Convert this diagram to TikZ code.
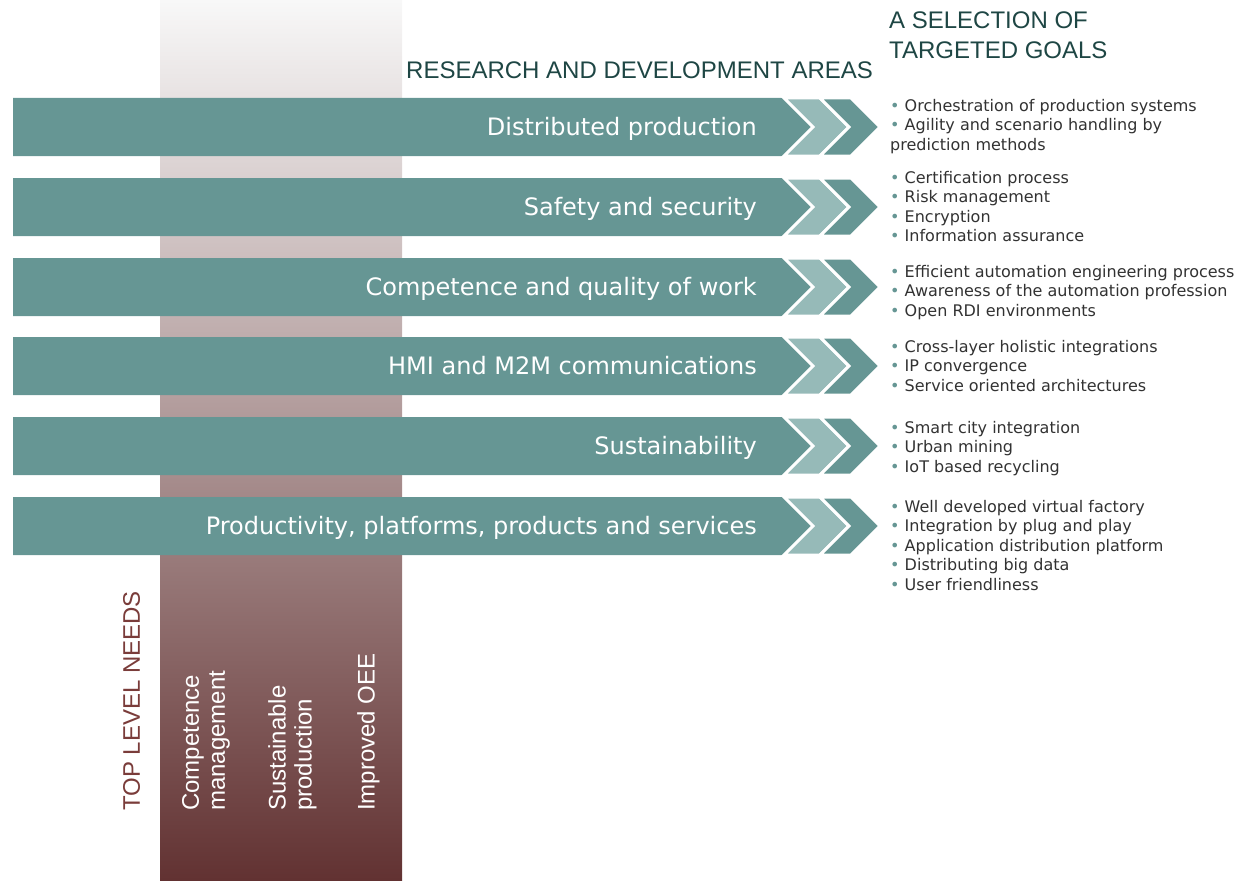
\documentclass[tikz,border=0pt]{standalone}
\usepackage{fontspec}
\setmainfont{Liberation Sans}
\newfontfamily\dejavu{DejaVu Sans}
\usepackage{tikz}
\definecolor{barteal}{RGB}{102,150,148}
\definecolor{chevpale}{RGB}{150,186,184}
\definecolor{headgreen}{RGB}{30,70,68}
\definecolor{needred}{RGB}{122,60,58}
\definecolor{goaltext}{RGB}{50,50,50}
\definecolor{bandtop}{RGB}{248,248,248}
\definecolor{bandmid}{RGB}{194,182,182}
\definecolor{bandbot}{RGB}{98,50,50}
\newcommand\gi{{\color{barteal}•}\ }
\tikzset{
  bar/.style={fill=barteal},
  chevlight/.style={fill=chevpale, draw=white, line width=3pt, line join=miter},
  chevdark/.style={fill=barteal, draw=white, line width=3pt, line join=miter},
  barlabel/.style={anchor=base east, inner sep=0, text=white, font=\dejavu\fontsize{24}{28}\selectfont},
  goals/.style={anchor=north west, inner sep=0, align=left, text=goaltext, font=\dejavu\fontsize{16}{19.5}\selectfont},
  heading/.style={inner sep=0, text=headgreen, align=left, font=\fontsize{24}{30}\selectfont},
  need/.style={rotate=90, anchor=north west, inner sep=0, align=left, text=white, font=\fontsize{24}{26}\selectfont}
}

\begin{document}
\begin{tikzpicture}[x=1pt, y=-1pt]
\useasboundingbox (0,0) rectangle (1238,880);
% band of the top level needs
\shade[top color=bandtop, middle color=bandmid, bottom color=bandbot] (160,0) rectangle (402,880);

% headings
\node[heading, anchor=west] (rdhead) at (406,70) {RESEARCH AND DEVELOPMENT AREAS};
\node[heading, anchor=north west] (goalhead) at (889,11.4) {A SELECTION OF\\TARGETED GOALS};

% research areas
\foreach \t/\n/\lbl in {98/1/{Distributed production}, 178/2/{Safety and security},
    258/3/{Competence and quality of work}, 337/4/{HMI and M2M communications},
    417/5/{Sustainability}, 497/6/{Productivity, platforms, products and services}} {
  \fill[bar] (13,\t) -- (784,\t) -- (813,\t+29) -- (784,\t+58) -- (13,\t+58) -- cycle;
  \filldraw[chevlight] (784,\t) -- (820,\t) -- (849,\t+29) -- (820,\t+58) -- (784,\t+58) -- (813,\t+29) -- cycle;
  \filldraw[chevdark] (820,\t) -- (851,\t) -- (880,\t+29) -- (851,\t+58) -- (820,\t+58) -- (849,\t+29) -- cycle;
  \node[barlabel] (area\n) at (757,\t+37.5) {\lbl};
}

% targeted goals
\node[goals] (goal1) at (890,99) {\gi Orchestration of production systems\\\gi Agility and scenario handling by\\prediction methods};
\node[goals] (goal2) at (890,171) {\gi Certification process\\\gi Risk management\\\gi Encryption\\\gi Information assurance};
\node[goals] (goal3) at (890,265) {\gi Efficient automation engineering process\\\gi Awareness of the automation profession\\\gi Open RDI environments};
\node[goals] (goal4) at (890,340) {\gi Cross-layer holistic integrations\\\gi IP convergence\\\gi Service oriented architectures};
\node[goals] (goal5) at (890,421) {\gi Smart city integration\\\gi Urban mining\\\gi IoT based recycling};
\node[goals] (goal6) at (890,500) {\gi Well developed virtual factory\\\gi Integration by plug and play\\\gi Application distribution platform\\\gi Distributing big data\\\gi User friendliness};

% top level needs
\node[need, text=needred] (needs) at (123,811) {TOP LEVEL NEEDS};
\node[need] (compet) at (182,811) {Competence\\management};
\node[need] (sustain) at (268,811) {Sustainable\\production};
\node[need] (oee) at (357,811) {Improved OEE};
\end{tikzpicture}
\end{document}
